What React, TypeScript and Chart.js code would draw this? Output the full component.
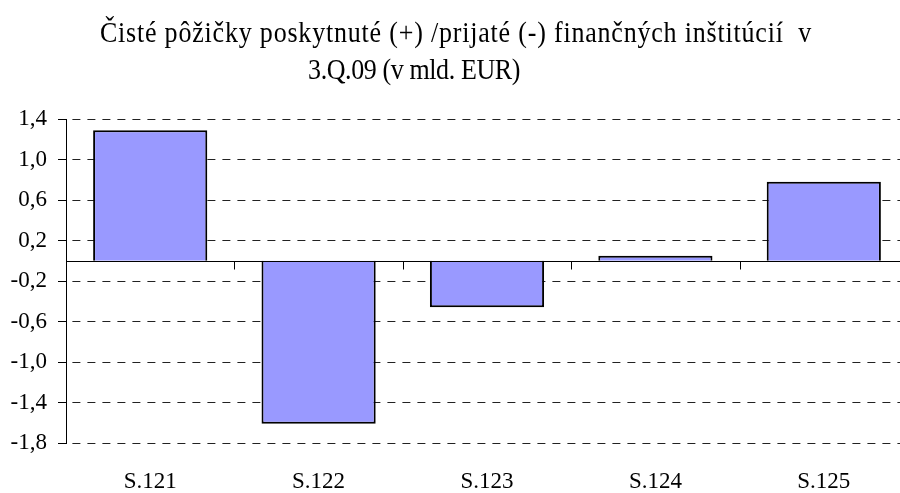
import React, { useEffect, useRef } from "react";
import { Chart, registerables } from "chart.js";

Chart.register(...registerables);

const titleLines = [
  "Čisté pôžičky poskytnuté (+) /prijaté (-) finančných inštitúcií  v",
  "3.Q.09 (v mld. EUR)",
];
const categories = ["S.121", "S.122", "S.123", "S.124", "S.125"];
const values = [1.29, -1.61, -0.46, 0.05, 0.78];
const yMin = -1.8;
const yMax = 1.4;
const yStep = 0.4;

const SERIF = '"Liberation Serif", "Times New Roman", serif';

const titlePlugin = {
  id: "twoLineTitle",
  afterDraw(chart: any) {
    const ctx = chart.ctx;
    const drawLine = (text: string, cx: number, base: number, spacing: string) => {
      ctx.save();
      ctx.fillStyle = "#000";
      ctx.font = `26px ${SERIF}`;
      (ctx as any).letterSpacing = spacing;
      ctx.textAlign = "center";
      ctx.textBaseline = "alphabetic";
      ctx.translate(cx, base);
      ctx.scale(1, 1.15);
      ctx.fillText(text, 0, 0);
      ctx.restore();
    };
    drawLine(titleLines[0], 456, 42, "0.8px");
    drawLine(titleLines[1], 414, 79, "-0.4px");
  },
};

const zeroLinePlugin = {
  id: "zeroLine",
  afterDatasetsDraw(chart: any) {
    const { ctx, chartArea, scales } = chart;
    const y0 = Math.round(scales.y.getPixelForValue(0)) + 0.5;
    const half =
      (scales.x.getPixelForValue(1) - scales.x.getPixelForValue(0)) / 2;
    ctx.save();
    ctx.strokeStyle = "#000";
    ctx.lineWidth = 1;
    ctx.beginPath();
    ctx.moveTo(chartArea.left, y0);
    ctx.lineTo(chartArea.right, y0);
    for (let i = 0; i < categories.length - 1; i++) {
      const xb = Math.round(scales.x.getPixelForValue(i) + half) + 0.5;
      ctx.moveTo(xb, y0);
      ctx.lineTo(xb, y0 + 8);
    }
    ctx.stroke();
    ctx.restore();
  },
};

export default function App() {
  const ref = useRef<HTMLCanvasElement>(null);
  useEffect(() => {
    if (!ref.current) return;
    const chart = new Chart(ref.current, {
      type: "bar",
      data: {
        labels: categories,
        datasets: [
          {
            data: values,
            backgroundColor: "#9999FF",
            borderColor: "#000",
            borderWidth: 2,
            categoryPercentage: 1,
            barPercentage: 0.678,
          },
        ],
      },
      options: {
        animation: false,
        responsive: false,
        maintainAspectRatio: false,
        devicePixelRatio: 1,
        layout: { padding: { top: 119, left: 0, right: 22, bottom: 0 } },
        plugins: {
          legend: { display: false },
          title: { display: false },
          tooltip: { enabled: false },
        },
        scales: {
          x: {
            grid: { display: false, drawTicks: false },
            border: { display: false },
            ticks: {
              color: "#000",
              padding: 25,
              font: { family: SERIF, size: 23 },
              maxRotation: 0,
            },
            afterFit: (s: any) => {
              s.height = 50;
            },
          },
          y: {
            min: yMin,
            max: yMax,
            ticks: {
              stepSize: yStep,
              color: "#000",
              padding: 11,
              font: { family: SERIF, size: 23 },
              callback: (v: any) => Number(v).toFixed(1).replace(".", ","),
            },
            grid: {
              color: "#222",
              lineWidth: 1,
              tickLength: 8,
              tickColor: "#000",
            },
            border: {
              display: true,
              color: "#000",
              width: 1,
              dash: [8, 7],
              dashOffset: 9.6,
            },
            afterFit: (s: any) => {
              s.width = 66;
            },
          },
        },
      },
      plugins: [titlePlugin, zeroLinePlugin],
    });
    return () => chart.destroy();
  }, []);
  return (
    <div
      style={{
        position: "fixed",
        left: 0,
        top: 0,
        width: 900,
        height: 493,
        overflow: "hidden",
        background: "#fff",
      }}
    >
      <canvas ref={ref} width={930} height={493} style={{ display: "block" }} />
    </div>
  );
}
